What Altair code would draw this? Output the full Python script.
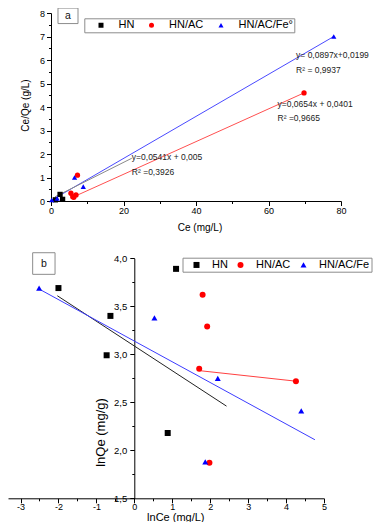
import altair as alt
import pandas as pd

W, H = 375, 514
FONT = "Liberation Sans"

# ---------------- panel a : Ce/Qe vs Ce ----------------
A_SERIES = ["HN", "HN/AC", "HN/AC/Fe°"]
A_COLORS = ["#000000", "#ff0000", "#0000ff"]
A_HN_X = [1.2, 2.5, 3.2]
A_HN_Y = [0.05, 0.28, 0.07]
A_AC_X = [5.5, 6.0, 6.3, 6.9, 7.3, 69.8]
A_AC_Y = [0.33, 0.18, 0.16, 0.26, 1.10, 4.60]
A_FE_X = [0.2, 1.7, 6.5, 8.9, 78.0]
A_FE_Y = [0.04, 0.11, 1.00, 0.61, 7.00]

A_FIT_HN_X = [1.1, 22.3]
A_FIT_HN_Y = [0.18, 1.82]
A_FIT_AC_X = [5.7, 69.8]
A_FIT_AC_Y = [0.14, 4.60]
A_FIT_FE_X = [0.0, 78.0]
A_FIT_FE_Y = [0.02, 7.00]

A_NOTE_TEXT = ["y= 0,0897x+0,0199", "R² = 0,9937",
               "y=0,0654x + 0,0401", "R² =0,9665",
               "y=0,0541x + 0,005", "R² =0,3926"]
A_NOTE_X = [67.6, 67.6, 62.5, 62.5, 22.3, 22.3]
A_NOTE_Y = [6.21, 5.57, 4.11, 3.53, 1.89, 1.23]

A_X_TICKS = [0, 10, 20, 30, 40, 50, 60, 70, 80]
A_Y_TICKS = [i / 2 for i in range(0, 17)]
A_LABEL = ["a"]
A_LABEL_BOX = {"x": [1.93], "x2": [7.45], "y": [8.21], "y2": [7.55], "tx": [4.69], "ty": [7.88]}

# ---------------- panel b : lnQe vs lnCe ----------------
B_SERIES = ["HN", "HN/AC", "HN/AC/Fe"]
B_COLORS = ["#000000", "#ff0000", "#0000ff"]
B_HN_X = [-2.00, -0.63, -0.73, 0.88, 1.10]
B_HN_Y = [3.69, 3.40, 2.99, 2.18, 3.89]
B_AC_X = [1.80, 1.92, 1.71, 4.26, 1.98]
B_AC_Y = [3.62, 3.29, 2.85, 2.72, 1.87]
B_FE_X = [-2.51, 0.53, 2.20, 4.40, 1.87]
B_FE_Y = [3.69, 3.38, 2.75, 2.41, 1.88]

B_FIT_HN_X = [-2.03, 2.43]
B_FIT_HN_Y = [3.61, 2.46]
B_FIT_AC_X = [1.71, 4.26]
B_FIT_AC_Y = [2.83, 2.72]
B_FIT_FE_X = [-2.51, 4.76]
B_FIT_FE_Y = [3.68, 2.11]

B_X_TICKS = [i / 2 for i in range(-6, 11)]
B_Y_TICKS = [1.5 + i / 4 for i in range(0, 11)]
B_LABEL = ["b"]
B_LABEL_BOX = {"x": [-2.68], "x2": [-2.09], "y": [4.058], "y2": [3.833], "tx": [-2.385], "ty": [3.945]}


def points_df(series, xs, ys):
    rows = []
    for s, xl, yl in zip(series, xs, ys):
        for xv, yv in zip(xl, yl):
            rows.append({"x": xv, "y": yv, "series": s})
    return pd.DataFrame(rows)


def line_df(xs, ys):
    return pd.DataFrame({"x": xs, "y": ys})


def panel(series, colors, pts, fits, fit_colors, x_scale, y_scale, x_axis, y_axis,
          legend, pt_size, box, label, notes=None):
    X = alt.X("x:Q", scale=x_scale, axis=x_axis)
    Y = alt.Y("y:Q", scale=y_scale, axis=y_axis)
    layers = []
    for (fx, fy), col in zip(fits, fit_colors):
        layers.append(
            alt.Chart(line_df(fx, fy)).mark_line(color=col, strokeWidth=1).encode(x=X, y=Y)
        )
    cscale = alt.Scale(domain=series, range=colors)
    sscale = alt.Scale(domain=series, range=["square", "circle", "triangle-up"])
    layers.append(
        alt.Chart(pts).mark_point(filled=True, size=pt_size, opacity=1).encode(
            x=X, y=Y,
            color=alt.Color("series:N", scale=cscale, legend=legend),
            shape=alt.Shape("series:N", scale=sscale, legend=legend),
        )
    )
    if notes is not None:
        layers.append(
            alt.Chart(notes).mark_text(align="left", baseline="middle", fontSize=8.5,
                                       color="#222222", font=FONT).encode(
                x=X, y=Y, text="t:N")
        )
    bdf = pd.DataFrame({"x": box["x"], "x2": box["x2"], "y": box["y"], "y2": box["y2"]})
    layers.append(
        alt.Chart(bdf).mark_rect(fill="white", stroke="#8c8c8c", strokeWidth=1).encode(
            x=X, x2="x2:Q", y=Y, y2="y2:Q")
    )
    tdf = pd.DataFrame({"x": box["tx"], "y": box["ty"], "t": label})
    layers.append(
        alt.Chart(tdf).mark_text(fontSize=10.5, color="#111111", font=FONT).encode(
            x=X, y=Y, text="t:N")
    )
    return alt.layer(*layers)


# ---------- panel a scales / axes ----------
a_xs = alt.Scale(domain=[0, 80], range=[43, 333], nice=False, zero=False)
a_ys = alt.Scale(domain=[0, 8], range=[193, 5], nice=False, zero=False)
a_xaxis = alt.Axis(
    orient="bottom", offset=193 - H, values=A_X_TICKS,
    labelExpr="datum.value % 20 ? '' : '' + datum.value",
    tickSize={"condition": {"test": "datum.value % 20", "value": 2.5}, "value": 4.5},
    grid=False, domainColor="black", tickColor="black", labelColor="black",
    labelFontSize=9, labelPadding=1, labelFlush=False, labelOverlap=False,
    title="Ce (mg/L)", titleFontSize=10, titleFontWeight="normal", titleColor="black",
    titleX=191.5, titleY=26, titleBaseline="middle", titleAlign="center",
)
a_yaxis = alt.Axis(
    orient="left", offset=-43, values=A_Y_TICKS,
    labelExpr="datum.value % 1 ? '' : '' + datum.value",
    tickSize={"condition": {"test": "datum.value % 1", "value": 2.5}, "value": 4.5},
    grid=False, domainColor="black", tickColor="black", labelColor="black",
    labelFontSize=9, labelPadding=2, labelFlush=False, labelOverlap=False,
    title="Ce/Qe (g/L)", titleFontSize=10, titleFontWeight="normal", titleColor="black",
    titleX=-26, titleY=97, titleAngle=270, titleBaseline="middle", titleAlign="center",
)
a_legend = alt.Legend(
    title=None, orient="none", legendX=76.3, legendY=10.3, direction="horizontal",
    padding=1.2, symbolOffset=10, labelOffset=12, columnPadding=1.5, symbolSize=25,
    labelFontSize=11, labelFont=FONT, labelColor="black",
    strokeColor="#8c8c8c", fillColor="white",
)

# ---------- panel b scales / axes ----------
b_xs = alt.Scale(domain=[-3.33, 5], range=[0, 316], nice=False, zero=False)
b_ys = alt.Scale(domain=[1.5, 4.0], range=[490.3, 250.3], nice=False, zero=False)
b_xaxis = alt.Axis(
    orient="bottom", offset=490.3 - H, values=B_X_TICKS,
    labelExpr="datum.value % 1 ? '' : '' + datum.value",
    tickSize={"condition": {"test": "datum.value % 1", "value": 2.5}, "value": 4.5},
    grid=False, domainColor="black", tickColor="black", labelColor="black",
    labelFontSize=9, labelPadding=0, labelFlush=False, labelOverlap=False,
    title="lnCe (mg/L)", titleFontSize=11, titleFontWeight="normal", titleColor="black",
    titleX=167.3, titleY=19.5, titleBaseline="middle", titleAlign="center",
)
b_yaxis = alt.Axis(
    orient="left", offset=-126.3, values=B_Y_TICKS,
    labelExpr="(datum.value * 4) % 2 ? '' : replace(format(datum.value, '.1f'), '.', ',')",
    tickSize={"condition": {"test": "(datum.value * 4) % 2", "value": 2.5}, "value": 4.5},
    grid=False, domainColor="black", tickColor="black", labelColor="black",
    labelFontSize=9.5, labelPadding=3, labelFlush=False, labelOverlap=False,
    title="lnQe (mg/g)", titleFontSize=13, titleFontWeight="normal", titleColor="black",
    titleX=-34, titleY=424, titleAngle=270, titleBaseline="middle", titleAlign="center",
)
b_legend = alt.Legend(
    title=None, orient="none", legendX=174.5, legendY=249.7, direction="horizontal",
    padding=1.5, symbolOffset=7, labelOffset=10, columnPadding=0, symbolSize=36,
    labelFontSize=11, labelFont=FONT, labelColor="black",
    strokeColor="#8c8c8c", fillColor="white",
)

a_pts = points_df(A_SERIES, [A_HN_X, A_AC_X, A_FE_X], [A_HN_Y, A_AC_Y, A_FE_Y])
b_pts = points_df(B_SERIES, [B_HN_X, B_AC_X, B_FE_X], [B_HN_Y, B_AC_Y, B_FE_Y])
a_notes = pd.DataFrame({"x": A_NOTE_X, "y": A_NOTE_Y, "t": A_NOTE_TEXT})

top = panel(
    A_SERIES, A_COLORS, a_pts,
    [(A_FIT_FE_X, A_FIT_FE_Y), (A_FIT_AC_X, A_FIT_AC_Y), (A_FIT_HN_X, A_FIT_HN_Y)],
    ["#4a4aff", "#ff5050", "#8a8a8a"],
    a_xs, a_ys, a_xaxis, a_yaxis, a_legend, 28, A_LABEL_BOX, A_LABEL, a_notes,
)
bottom = panel(
    B_SERIES, B_COLORS, b_pts,
    [(B_FIT_HN_X, B_FIT_HN_Y), (B_FIT_FE_X, B_FIT_FE_Y), (B_FIT_AC_X, B_FIT_AC_Y)],
    ["#222222", "#3c3cff", "#ff4040"],
    b_xs, b_ys, b_xaxis, b_yaxis, b_legend, 36, B_LABEL_BOX, B_LABEL,
)

chart = alt.layer(top, bottom).resolve_scale(
    x="independent", y="independent", color="independent", shape="independent"
).properties(
    width=W, height=H, padding=0, autosize=alt.AutoSizeParams(type="none")
).configure(font=FONT).configure_view(stroke=None)

chart.save("out.html", embed_options={"renderer": "svg", "actions": False})
